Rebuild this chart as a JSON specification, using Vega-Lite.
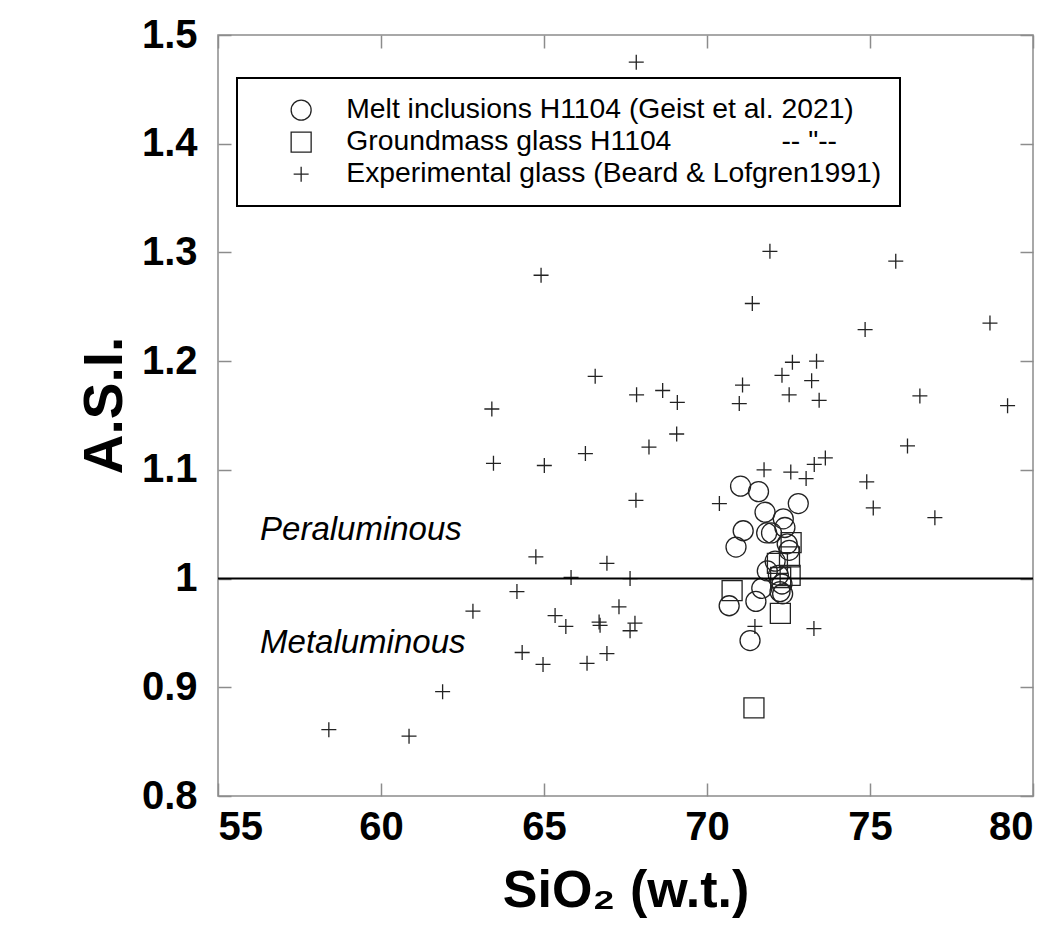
{
  "$schema": "https://vega.github.io/schema/vega-lite/v6.json",
  "width": 815,
  "height": 761,
  "autosize": {"type": "none"},
  "padding": {"left": 218, "top": 35, "right": 30, "bottom": 152},
  "background": "white",
  "config": {"view": {"stroke": "#8c8c8c", "strokeWidth": 1.5}, "font": "Liberation Sans", "legend": {"strokeWidth": 2}},
  "datasets": {
    "points": [
      {"Sample": "EXP", "SiO2": 67.83, "ASI": 1.475},
      {"Sample": "EXP", "SiO2": 71.93, "ASI": 1.301},
      {"Sample": "EXP", "SiO2": 75.79, "ASI": 1.292},
      {"Sample": "EXP", "SiO2": 64.91, "ASI": 1.279},
      {"Sample": "EXP", "SiO2": 71.39, "ASI": 1.253},
      {"Sample": "EXP", "SiO2": 74.85, "ASI": 1.229},
      {"Sample": "EXP", "SiO2": 78.68, "ASI": 1.235},
      {"Sample": "EXP", "SiO2": 72.62, "ASI": 1.199},
      {"Sample": "EXP", "SiO2": 73.36, "ASI": 1.2},
      {"Sample": "EXP", "SiO2": 66.57, "ASI": 1.186},
      {"Sample": "EXP", "SiO2": 72.3, "ASI": 1.187},
      {"Sample": "EXP", "SiO2": 73.21, "ASI": 1.182},
      {"Sample": "EXP", "SiO2": 71.09, "ASI": 1.178},
      {"Sample": "EXP", "SiO2": 63.4, "ASI": 1.156},
      {"Sample": "EXP", "SiO2": 68.64, "ASI": 1.173},
      {"Sample": "EXP", "SiO2": 67.84, "ASI": 1.169},
      {"Sample": "EXP", "SiO2": 69.09, "ASI": 1.162},
      {"Sample": "EXP", "SiO2": 72.52, "ASI": 1.169},
      {"Sample": "EXP", "SiO2": 73.44, "ASI": 1.164},
      {"Sample": "EXP", "SiO2": 76.53, "ASI": 1.168},
      {"Sample": "EXP", "SiO2": 79.22, "ASI": 1.159},
      {"Sample": "EXP", "SiO2": 70.99, "ASI": 1.161},
      {"Sample": "EXP", "SiO2": 69.07, "ASI": 1.133},
      {"Sample": "EXP", "SiO2": 68.22, "ASI": 1.121},
      {"Sample": "EXP", "SiO2": 76.15, "ASI": 1.122},
      {"Sample": "EXP", "SiO2": 66.27, "ASI": 1.115},
      {"Sample": "EXP", "SiO2": 63.45, "ASI": 1.106},
      {"Sample": "EXP", "SiO2": 65.01, "ASI": 1.104},
      {"Sample": "EXP", "SiO2": 73.63, "ASI": 1.111},
      {"Sample": "EXP", "SiO2": 73.29, "ASI": 1.105},
      {"Sample": "EXP", "SiO2": 71.75, "ASI": 1.1},
      {"Sample": "EXP", "SiO2": 72.57, "ASI": 1.098},
      {"Sample": "EXP", "SiO2": 73.04, "ASI": 1.092},
      {"Sample": "EXP", "SiO2": 74.9, "ASI": 1.089},
      {"Sample": "EXP", "SiO2": 75.1, "ASI": 1.065},
      {"Sample": "EXP", "SiO2": 70.38, "ASI": 1.069},
      {"Sample": "EXP", "SiO2": 67.82, "ASI": 1.072},
      {"Sample": "EXP", "SiO2": 76.99, "ASI": 1.056},
      {"Sample": "EXP", "SiO2": 64.75, "ASI": 1.02},
      {"Sample": "EXP", "SiO2": 66.93, "ASI": 1.014},
      {"Sample": "EXP", "SiO2": 65.83, "ASI": 1.001},
      {"Sample": "EXP", "SiO2": 67.64, "ASI": 1.0},
      {"Sample": "EXP", "SiO2": 64.17, "ASI": 0.988},
      {"Sample": "EXP", "SiO2": 62.82, "ASI": 0.97},
      {"Sample": "EXP", "SiO2": 65.34, "ASI": 0.966},
      {"Sample": "EXP", "SiO2": 67.3, "ASI": 0.974},
      {"Sample": "EXP", "SiO2": 65.67, "ASI": 0.956},
      {"Sample": "EXP", "SiO2": 66.69, "ASI": 0.96},
      {"Sample": "EXP", "SiO2": 66.72, "ASI": 0.957},
      {"Sample": "EXP", "SiO2": 67.79, "ASI": 0.959},
      {"Sample": "EXP", "SiO2": 67.64, "ASI": 0.952},
      {"Sample": "EXP", "SiO2": 64.33, "ASI": 0.932},
      {"Sample": "EXP", "SiO2": 64.97, "ASI": 0.921},
      {"Sample": "EXP", "SiO2": 66.32, "ASI": 0.922},
      {"Sample": "EXP", "SiO2": 66.93, "ASI": 0.931},
      {"Sample": "EXP", "SiO2": 61.89, "ASI": 0.896},
      {"Sample": "EXP", "SiO2": 58.4, "ASI": 0.861},
      {"Sample": "EXP", "SiO2": 60.86, "ASI": 0.855},
      {"Sample": "EXP", "SiO2": 71.47, "ASI": 0.956},
      {"Sample": "EXP", "SiO2": 73.28, "ASI": 0.954},
      {"Sample": "MI", "SiO2": 71.03, "ASI": 1.085},
      {"Sample": "MI", "SiO2": 71.58, "ASI": 1.08},
      {"Sample": "MI", "SiO2": 72.8, "ASI": 1.069},
      {"Sample": "MI", "SiO2": 71.78, "ASI": 1.061},
      {"Sample": "MI", "SiO2": 72.34, "ASI": 1.055},
      {"Sample": "MI", "SiO2": 71.11, "ASI": 1.044},
      {"Sample": "MI", "SiO2": 71.83, "ASI": 1.042},
      {"Sample": "MI", "SiO2": 71.98, "ASI": 1.042},
      {"Sample": "MI", "SiO2": 72.39, "ASI": 1.047},
      {"Sample": "MI", "SiO2": 70.89, "ASI": 1.029},
      {"Sample": "MI", "SiO2": 72.46, "ASI": 1.032},
      {"Sample": "MI", "SiO2": 72.52, "ASI": 1.026},
      {"Sample": "MI", "SiO2": 72.09, "ASI": 1.016},
      {"Sample": "MI", "SiO2": 71.85, "ASI": 1.007},
      {"Sample": "MI", "SiO2": 72.19, "ASI": 1.003},
      {"Sample": "MI", "SiO2": 71.68, "ASI": 0.991},
      {"Sample": "MI", "SiO2": 72.24, "ASI": 0.988},
      {"Sample": "MI", "SiO2": 72.32, "ASI": 0.986},
      {"Sample": "MI", "SiO2": 71.5, "ASI": 0.979},
      {"Sample": "MI", "SiO2": 70.68, "ASI": 0.975},
      {"Sample": "MI", "SiO2": 71.32, "ASI": 0.943},
      {"Sample": "MI", "SiO2": 72.3, "ASI": 0.995},
      {"Sample": "GM", "SiO2": 72.58, "ASI": 1.033},
      {"Sample": "GM", "SiO2": 72.53, "ASI": 1.02},
      {"Sample": "GM", "SiO2": 72.16, "ASI": 1.014},
      {"Sample": "GM", "SiO2": 72.26, "ASI": 1.001},
      {"Sample": "GM", "SiO2": 72.55, "ASI": 1.003},
      {"Sample": "GM", "SiO2": 70.77, "ASI": 0.989},
      {"Sample": "GM", "SiO2": 72.25, "ASI": 0.968},
      {"Sample": "GM", "SiO2": 71.44, "ASI": 0.881}
    ]
  },
  "resolve": {"axis": {"x": "independent", "y": "independent"}},
  "layer": [
    {
      "data": {"name": "points"},
      "mark": {"type": "point", "filled": false, "stroke": "#222", "strokeWidth": 1.3, "size": 400, "opacity": 1},
      "encoding": {
        "x": {
          "field": "SiO2", "type": "quantitative",
          "scale": {"domain": [55, 80], "nice": false, "zero": false},
          "axis": {
            "orient": "bottom", "values": [55, 60, 65, 70, 75, 80], "domain": false, "grid": false,
            "tickSize": -13, "tickColor": "#8c8c8c", "tickWidth": 1.5,
            "labelFont": "Liberation Sans", "labelFontSize": 40, "labelFontWeight": "bold", "labelColor": "black", "labelPadding": 24,
            "title": "SiO₂ (w.t.)", "titleFont": "Liberation Sans", "titleFontSize": 52, "titleFontWeight": "bold", "titleColor": "black",
            "titleBaseline": "alphabetic", "titleY": 110
          }
        },
        "y": {
          "field": "ASI", "type": "quantitative",
          "scale": {"domain": [0.8, 1.5], "nice": false, "zero": false},
          "axis": {
            "orient": "left", "values": [0.8, 0.9, 1, 1.1, 1.2, 1.3, 1.4, 1.5], "format": "~g", "domain": false, "grid": false,
            "tickSize": -13, "tickColor": "#8c8c8c", "tickWidth": 1.5,
            "labelFont": "Liberation Sans", "labelFontSize": 40, "labelFontWeight": "bold", "labelColor": "black", "labelPadding": 34,
            "title": "A.S.I.", "titleFont": "Liberation Sans", "titleFontSize": 55, "titleFontWeight": "bold", "titleColor": "black",
            "titleBaseline": "alphabetic", "titleX": -97, "titleY": 370
          }
        },
        "shape": {
          "field": "Sample", "type": "nominal",
          "scale": {"domain": ["MI", "GM", "EXP"], "range": ["circle", "square", "M-0.75,0H0.75M0,-0.75V0.75"]},
          "legend": {
            "title": null, "orient": "none", "legendX": 19, "legendY": 43, "direction": "vertical",
            "strokeColor": "black", "fillColor": "white", "padding": 18,
            "symbolSize": 400, "symbolStrokeColor": "#222", "symbolFillColor": "transparent", "symbolStrokeWidth": 1.3,
            "symbolOffset": 32, "labelOffset": 31,
            "labelFont": "Liberation Sans", "labelFontSize": 28.3, "labelColor": "black", "labelLimit": 900, "rowPadding": 3,
            "labelExpr": "datum.value == 'MI' ? 'Melt inclusions H1104 (Geist et al. 2021)' : datum.value == 'GM' ? 'Groundmass glass H1104\u00a0\u00a0\u00a0\u00a0\u00a0\u00a0\u00a0\u00a0\u00a0\u00a0\u00a0\u00a0\u00a0\u00a0-- \"--' : 'Experimental glass (Beard & Lofgren1991)'"
          }
        }
      }
    },
    {
      "data": {"values": [{}]},
      "mark": {"type": "rule", "stroke": "black", "strokeWidth": 2},
      "encoding": {"y": {"datum": 1, "type": "quantitative", "axis": null}}
    },
    {
      "data": {"values": [{}]},
      "mark": {"type": "text", "font": "Liberation Sans", "fontStyle": "italic", "fontSize": 33, "align": "left", "baseline": "middle", "color": "black"},
      "encoding": {
        "x": {"datum": 56.29, "type": "quantitative",
          "axis": {"orient": "top", "values": [55, 60, 65, 70, 75, 80], "labels": false, "domain": false, "grid": false, "title": null, "tickSize": -13, "tickColor": "#8c8c8c", "tickWidth": 1.5}},
        "y": {"datum": 1.045, "type": "quantitative",
          "axis": {"orient": "right", "values": [0.8, 0.9, 1, 1.1, 1.2, 1.3, 1.4, 1.5], "labels": false, "domain": false, "grid": false, "title": null, "tickSize": -13, "tickColor": "#8c8c8c", "tickWidth": 1.5}},
        "text": {"value": "Peraluminous"}
      }
    },
    {
      "data": {"values": [{}]},
      "mark": {"type": "text", "font": "Liberation Sans", "fontStyle": "italic", "fontSize": 33, "align": "left", "baseline": "middle", "color": "black"},
      "encoding": {
        "x": {"datum": 56.29, "type": "quantitative", "axis": null},
        "y": {"datum": 0.941, "type": "quantitative", "axis": null},
        "text": {"value": "Metaluminous"}
      }
    }
  ]
}
